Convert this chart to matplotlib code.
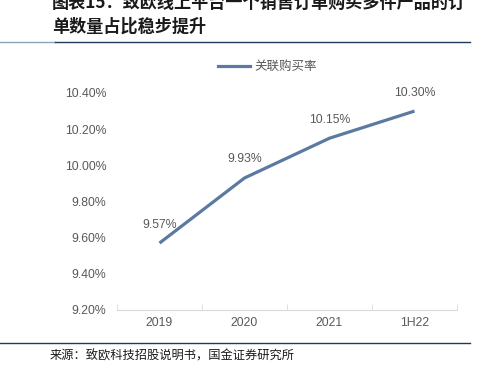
import numpy as np
import matplotlib
matplotlib.use("Agg")
import matplotlib.pyplot as plt
from matplotlib.lines import Line2D
import matplotlib.ticker as mtick

plt.rcParams["font.family"] = ["Noto Sans CJK SC", "DejaVu Sans"]

years = ["2019", "2020", "2021", "1H22"]
rate = [9.57, 9.93, 10.15, 10.30]
labels = ["9.57%", "9.93%", "10.15%", "10.30%"]
yticks = [9.2, 9.4, 9.6, 9.8, 10.0, 10.2, 10.4]

W, H = 487, 371
fig = plt.figure(figsize=(W / 100, H / 100), dpi=100)
ax = fig.add_axes([117 / W, 1 - 310 / H, 340 / W, (310 - 93) / H])

line_c = "#5b79a1"
grey = "#595959"
num_font = "Liberation Sans"
x = np.arange(len(years))
ax.plot(x, rate, c=line_c, lw=2.3, solid_capstyle="butt")
for xi, yi, lab in zip(x, rate, labels):
    ax.annotate(lab, (xi, yi), xytext=(0, 9), textcoords="offset points",
                ha="center", va="bottom", fontsize=8.8, color=grey, family=num_font)

ax.set_xlim(-0.5, 3.5)
ax.set_ylim(9.2, 10.4)
ax.set_yticks(yticks)
ax.yaxis.set_major_formatter(mtick.FuncFormatter(lambda v, p: "%.2f%%" % v))
ax.set_xticks(x)
ax.set_xticklabels(years)
ax.set_xticks([-0.5, 0.5, 1.5, 2.5, 3.5], minor=True)
ax.tick_params(axis="y", length=0, pad=7.5, labelsize=8.8, labelcolor=grey)
ax.tick_params(axis="x", which="major", length=0, pad=5, labelsize=8.8, labelcolor=grey)
ax.tick_params(axis="x", which="minor", length=4, direction="in", color="#d9d9d9")
for t in ax.get_xticklabels() + ax.get_yticklabels():
    t.set_family(num_font)
for s in ["top", "right", "left"]:
    ax.spines[s].set_visible(False)
ax.spines["bottom"].set_color("#d9d9d9")

# legend
fig.add_artist(Line2D([218 / W, 250 / W], [1 - 66 / H, 1 - 66 / H], c=line_c, lw=2.3))
fig.text(254 / W, 1 - 66 / H, "关联购买率", fontsize=9, color=grey, va="center", ha="left")

# title and rules
fig.text(52 / W, 1 - 3 / H, "图表15：致欧线上平台一个销售订单购买多件产品的订",
         fontsize=12.3, fontweight="bold", color="#1a1a1a", va="center", ha="left")
fig.text(52 / W, 1 - 27 / H, "单数量占比稳步提升",
         fontsize=12.3, fontweight="bold", color="#1a1a1a", va="center", ha="left")
fig.add_artist(Line2D([0, 55 / W], [1 - 42 / H, 1 - 42 / H], c="#8fa3b8", lw=1))
fig.add_artist(Line2D([55 / W, 470 / W], [1 - 42 / H, 1 - 42 / H], c="#1f3a5a", lw=1))
fig.add_artist(Line2D([0, 470 / W], [1 - 343 / H, 1 - 343 / H], c="#1f3a5a", lw=1))
fig.text(50 / W, 1 - 356 / H, "来源：致欧科技招股说明书，国金证券研究所",
         fontsize=8.8, color="#1a1a1a", va="center", ha="left")

fig.savefig("out.png", dpi=100, facecolor="w")
